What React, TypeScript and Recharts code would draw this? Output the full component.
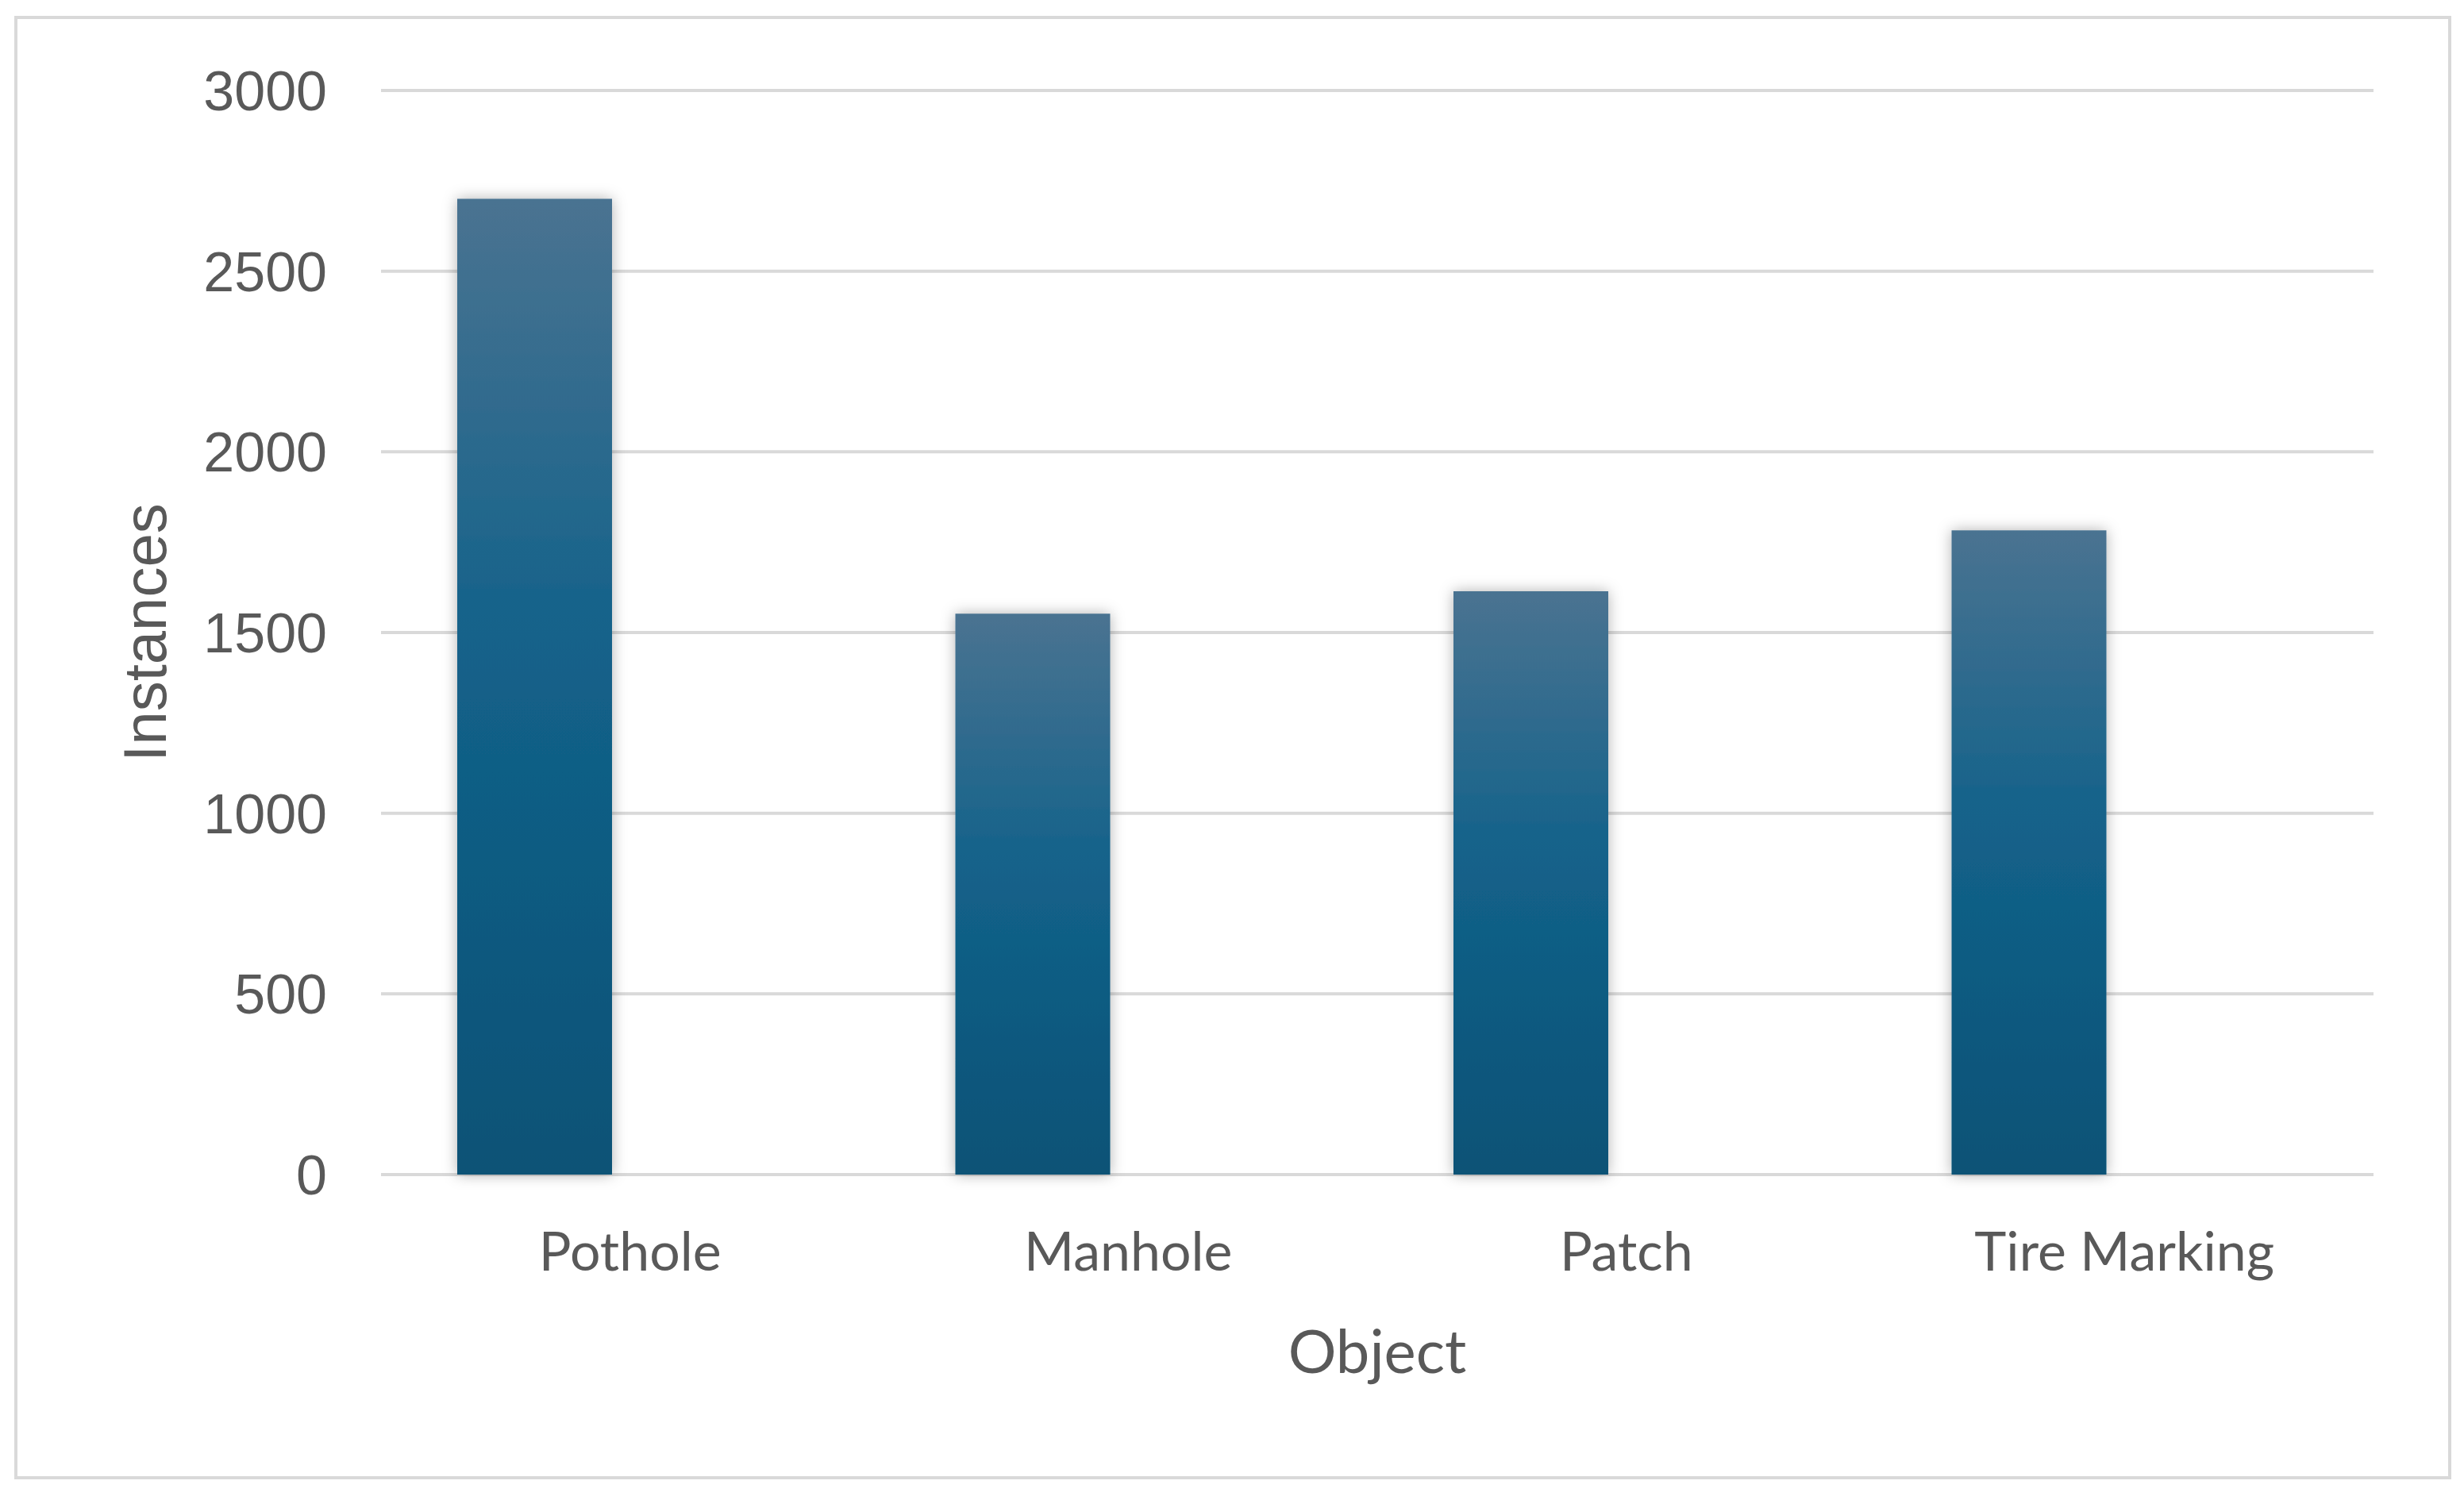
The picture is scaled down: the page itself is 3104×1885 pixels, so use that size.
import { BarChart, Bar, XAxis, YAxis, CartesianGrid, Label } from "recharts";

const categories = ["Pothole", "Manhole", "Patch", "Tire Marking"];
const instanceCounts = [2700, 1552, 1614, 1783];
// second series in the original sheet is empty, it only reserves the slot next to each bar
const secondSeries = [0, 0, 0, 0];
const yTicks = [0, 500, 1000, 1500, 2000, 2500, 3000];

const data = categories.map((name, i) => ({
  name,
  instances: instanceCounts[i],
  extra: secondSeries[i],
}));

const textGray = "#595959";
const gridGray = "#d9d9d9";

export default function App() {
  return (
    <div
      style={{
        position: "absolute",
        left: 0,
        top: 0,
        width: 3104,
        height: 1885,
        background: "#ffffff",
      }}
    >
      <div
        style={{
          position: "absolute",
          left: 18,
          top: 20,
          width: 3070,
          height: 1844,
          border: `4px solid ${gridGray}`,
          boxSizing: "border-box",
        }}
      />
      <div style={{ position: "absolute", left: 0, top: 0 }}>
        <BarChart
          width={3104}
          height={1885}
          data={data}
          margin={{ top: 114, right: 114, bottom: 145, left: 180 }}
          barCategoryGap={96}
          barGap={45}
        >
          <defs>
            <linearGradient id="barFill" x1="0" y1="0" x2="0" y2="1">
              <stop offset="0%" stopColor="#4a7391" />
              <stop offset="45%" stopColor="#13628a" />
              <stop offset="100%" stopColor="#0a5276" />
            </linearGradient>
            <filter id="barShadow" x="-30%" y="-10%" width="160%" height="120%">
              <feDropShadow dx="0" dy="0" stdDeviation="9" floodColor="#000" floodOpacity="0.3" />
            </filter>
          </defs>
          <CartesianGrid vertical={false} stroke={gridGray} strokeWidth={4} />
          <XAxis
            dataKey="name"
            axisLine={false}
            tickLine={false}
            tickMargin={67}
            height={260}
            tick={{ fontSize: 68, fill: textGray, fontFamily: "Lato" }}
          >
            <Label
              value="Object"
              position="insideBottom"
              offset={10}
              style={{ fontSize: 76, fill: textGray, fontFamily: "Lato" }}
            />
          </XAxis>
          <YAxis
            domain={[0, 3000]}
            ticks={yTicks}
            axisLine={false}
            tickLine={false}
            width={300}
            tickMargin={62}
            tick={{ fontSize: 70, fill: textGray, fontFamily: "Liberation Sans" }}
          >
            <Label
              value="Instances"
              angle={-90}
              position="insideLeft"
              offset={2}
              style={{
                fontSize: 76,
                fill: textGray,
                fontFamily: "Liberation Sans",
                textAnchor: "middle",
              }}
            />
          </YAxis>
          <Bar
            dataKey="instances"
            fill="url(#barFill)"
            filter="url(#barShadow)"
            isAnimationActive={false}
          />
          <Bar dataKey="extra" fill="url(#barFill)" isAnimationActive={false} />
        </BarChart>
      </div>
    </div>
  );
}
